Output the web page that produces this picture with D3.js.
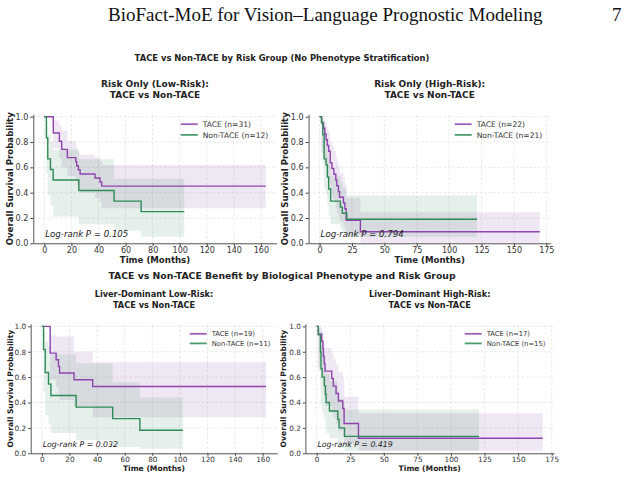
<!DOCTYPE html>
<html>
<head>
    <meta charset="utf-8">
    <title>TACE vs Non-TACE survival</title>
    <script src="https://d3js.org/d3.v7.min.js"></script>
    <style>
        body { margin: 0; background: white; }
        svg text { font-family: "DejaVu Sans", sans-serif; fill: #222; }
    </style>
</head>
<body>
<svg id="fig" width="633" height="478"></svg>
<script>
// Kaplan-Meier steps, each row: [month, survival, ci lower, ci upper]
// last row is the end of follow-up (no event)
var lowTace = [
    [0, 1, 1, 1], [6.6, 0.871, 0.75, 0.97], [11.1, 0.806, 0.67, 0.93], [12.8, 0.742, 0.60, 0.89],
    [17.0, 0.677, 0.53, 0.81], [23.2, 0.645, 0.49, 0.78], [23.9, 0.613, 0.46, 0.75], [25.1, 0.581, 0.43, 0.72],
    [26.4, 0.548, 0.40, 0.70], [37.4, 0.516, 0.36, 0.68], [41.1, 0.484, 0.33, 0.65], [42.4, 0.452, 0.276, 0.618],
    [163.5, 0.452, 0.276, 0.618]
];
var lowNon = [
    [0, 1, 1, 1], [1.5, 0.833, 0.55, 0.96], [2.5, 0.667, 0.38, 0.86], [4.5, 0.583, 0.30, 0.80],
    [6.5, 0.5, 0.21, 0.74], [25.5, 0.417, 0.15, 0.665], [51.5, 0.333, 0.10, 0.51], [71.5, 0.25, 0.052, 0.51],
    [103.4, 0.25, 0.052, 0.51]
];
var highTace = [
    [0, 1, 1, 1], [1.5, 0.955, 0.72, 0.99], [3, 0.909, 0.68, 0.98], [4, 0.864, 0.63, 0.96],
    [5, 0.818, 0.58, 0.93], [6, 0.773, 0.54, 0.90], [7, 0.727, 0.49, 0.87], [8.2, 0.636, 0.40, 0.80],
    [9.5, 0.591, 0.36, 0.77], [11, 0.545, 0.32, 0.73], [12.5, 0.5, 0.28, 0.69], [13.3, 0.455, 0.24, 0.65],
    [14.5, 0.409, 0.21, 0.61], [15.4, 0.364, 0.17, 0.56], [18.4, 0.318, 0.14, 0.52], [19.5, 0.273, 0.11, 0.47],
    [20.5, 0.182, 0.06, 0.36], [31.5, 0.091, 0.005, 0.245], [169.9, 0.091, 0.005, 0.245]
];
var highNon = [
    [0, 1, 1, 1], [1.5, 0.952, 0.71, 0.99], [2.5, 0.857, 0.62, 0.95], [3.5, 0.667, 0.43, 0.83],
    [5, 0.619, 0.38, 0.79], [6, 0.524, 0.30, 0.71], [7, 0.429, 0.22, 0.62], [8.5, 0.333, 0.15, 0.53],
    [16, 0.286, 0.11, 0.49], [17.5, 0.238, 0.08, 0.44], [21, 0.190, 0.05, 0.377], [121.5, 0.190, 0.05, 0.377]
];
var liverLowTace = [
    [0, 1, 1, 1], [6, 0.789, 0.58, 0.93], [10.3, 0.737, 0.52, 0.92], [12, 0.684, 0.47, 0.92],
    [12.8, 0.632, 0.42, 0.92], [23.3, 0.579, 0.37, 0.80], [36.8, 0.526, 0.283, 0.717], [162.5, 0.526, 0.283, 0.717]
];
var liverLowNon = [
    [0, 1, 1, 1], [1.2, 0.818, 0.48, 0.96], [2.4, 0.636, 0.30, 0.88], [4.8, 0.545, 0.23, 0.84],
    [6.5, 0.455, 0.16, 0.78], [24.8, 0.364, 0.105, 0.71], [51.3, 0.273, 0.05, 0.56], [71, 0.182, 0.035, 0.44],
    [102.2, 0.182, 0.035, 0.44]
];
var liverHighTace = [
    [0, 1, 1, 1], [1.2, 0.941, 0.65, 0.99], [3.7, 0.882, 0.60, 0.97], [4.6, 0.824, 0.54, 0.94],
    [5, 0.765, 0.48, 0.91], [5.6, 0.706, 0.43, 0.87], [6.2, 0.647, 0.37, 0.83], [11.2, 0.588, 0.32, 0.79],
    [12.4, 0.529, 0.28, 0.74], [14.4, 0.471, 0.23, 0.70], [16.2, 0.412, 0.18, 0.64], [19.4, 0.353, 0.14, 0.59],
    [20.4, 0.235, 0.07, 0.446], [31.1, 0.118, 0.02, 0.315], [168.3, 0.118, 0.02, 0.315]
];
var liverHighNon = [
    [0, 1, 1, 1], [1.2, 0.933, 0.68, 0.99], [2.8, 0.8, 0.50, 0.93], [3.2, 0.667, 0.38, 0.85],
    [4, 0.6, 0.32, 0.80], [5.7, 0.533, 0.27, 0.75], [6.5, 0.467, 0.21, 0.69], [7, 0.4, 0.16, 0.63],
    [9.5, 0.333, 0.12, 0.57], [15.7, 0.267, 0.08, 0.50], [16.7, 0.2, 0.05, 0.43], [20.7, 0.133, 0.02, 0.345],
    [120.9, 0.133, 0.02, 0.345]
];

var titles = [
    ["Risk Only (Low-Risk):", "TACE vs Non-TACE"],
    ["Risk Only (High-Risk):", "TACE vs Non-TACE"],
    ["Liver-Dominant Low-Risk:", "TACE vs Non-TACE"],
    ["Liver-Dominant High-Risk:", "TACE vs Non-TACE"]
];
var sizes = [[31, 12], [22, 21], [19, 11], [17, 15]];
var pValues = ["0.105", "0.794", "0.032", "0.419"];
var xTicks160 = [0, 20, 40, 60, 80, 100, 120, 140, 160];
var xTicks175 = [0, 25, 50, 75, 100, 125, 150, 175];
var yTicks = [0, 0.2, 0.4, 0.6, 0.8, 1.0];

var purple = "#8e44ad";
var green = "#2e8b57";

var svg = d3.select("#fig");

// page header
svg.append("text").attr("x", 108).attr("y", 21)
    .style("font-family", "'Liberation Serif', serif").style("font-size", "19px").style("fill", "#111")
    .text("BioFact-MoE for Vision\u2013Language Prognostic Modeling");
svg.append("text").attr("x", 612).attr("y", 21)
    .style("font-family", "'Liberation Serif', serif").style("font-size", "19px").style("fill", "#111")
    .text("7");

// figure suptitles
svg.append("text").attr("x", 282).attr("y", 61).attr("text-anchor", "middle")
    .style("font-weight", "bold").style("font-size", "8.4px")
    .text("TACE vs Non-TACE by Risk Group (No Phenotype Stratification)");
svg.append("text").attr("x", 282).attr("y", 279).attr("text-anchor", "middle")
    .style("font-weight", "bold").style("font-size", "9.3px")
    .text("TACE vs Non-TACE Benefit by Biological Phenotype and Risk Group");

// panel layout (pixels) and font sizes
var panels = [
    { tace: lowTace, non: lowNon, xTicks: xTicks160, left: 33.3, right: 276.7, top: 114.2, bottom: 243.3,
      ylabX: 10, fs: 8, lab: 8.6, leg: 7.6, title: 9, legDx: 74, legDy: 10.7, tick: 3, pad: 1.5, labDy: 19.5 },
    { tace: highTace, non: highNon, xTicks: xTicks175, left: 308.6, right: 550.7, top: 114.2, bottom: 243.3,
      ylabX: 285, fs: 8, lab: 8.6, leg: 7.6, title: 9, legDx: 74, legDy: 10.7, tick: 3, pad: 1.5, labDy: 19.5 },
    { tace: liverLowTace, non: liverLowNon, xTicks: xTicks160, left: 30.7, right: 277.3, top: 323.8, bottom: 453.3,
      ylabX: 10, fs: 7.3, lab: 7.6, leg: 6.8, title: 8.2, legDx: 65.6, legDy: 9.6, tick: 2.5, pad: 1, labDy: 18 },
    { tace: liverHighTace, non: liverHighNon, xTicks: xTicks175, left: 305.4, right: 554, top: 323.8, bottom: 453.3,
      ylabX: 283, fs: 7.3, lab: 7.6, leg: 6.8, title: 8.2, legDx: 67.3, legDy: 9.6, tick: 2.5, pad: 1, labDy: 18 }
];

panels.forEach(function(p, i) {
    var g = svg.append("g");
    var xMax = d3.max([p.tace, p.non], function(s) { return s[s.length - 1][0]; });
    var pad = xMax * 0.05;
    var x = d3.scaleLinear().domain([-pad, xMax + pad]).range([p.left, p.right]);
    var y = d3.scaleLinear().domain([0, 1.02]).range([p.bottom, p.top]);

    // dashed grid
    g.selectAll(".gx").data(p.xTicks).join("line")
        .attr("x1", function(d) { return x(d); }).attr("x2", function(d) { return x(d); })
        .attr("y1", p.bottom).attr("y2", p.top)
        .attr("stroke", "#d9d9d9").attr("stroke-width", 0.6).attr("stroke-dasharray", "2.5,2");
    g.selectAll(".gy").data(yTicks).join("line")
        .attr("x1", p.left).attr("x2", p.right)
        .attr("y1", function(d) { return y(d); }).attr("y2", function(d) { return y(d); })
        .attr("stroke", "#d9d9d9").attr("stroke-width", 0.6).attr("stroke-dasharray", "2.5,2");

    var band = d3.area().curve(d3.curveStepAfter)
        .x(function(d) { return x(d[0]); })
        .y0(function(d) { return y(d[2]); })
        .y1(function(d) { return y(d[3]); });
    var line = d3.line().curve(d3.curveStepAfter)
        .x(function(d) { return x(d[0]); })
        .y(function(d) { return y(d[1]); });

    var series = [[p.tace, purple], [p.non, green]];
    series.forEach(function(s) {
        g.append("path").datum(s[0]).attr("d", band).attr("fill", s[1]).attr("fill-opacity", 0.13);
    });
    series.forEach(function(s) {
        g.append("path").datum(s[0]).attr("d", line).attr("fill", "none")
            .attr("stroke", s[1]).attr("stroke-width", 1.4);
    });

    // axes, only left and bottom spines
    var xAxis = g.append("g").attr("transform", "translate(0," + p.bottom + ")")
        .call(d3.axisBottom(x).tickValues(p.xTicks).tickSize(p.tick).tickSizeOuter(0).tickPadding(p.pad));
    var yAxis = g.append("g").attr("transform", "translate(" + p.left + ",0)")
        .call(d3.axisLeft(y).tickValues(yTicks).tickFormat(d3.format(".1f")).tickSize(p.tick).tickSizeOuter(0).tickPadding(2));
    [xAxis, yAxis].forEach(function(a) {
        a.select(".domain").attr("stroke", "#444").attr("stroke-width", 0.9);
        a.selectAll(".tick line").attr("stroke", "#444");
        a.selectAll(".tick text").style("font-size", p.fs + "px").style("fill", "#333");
    });

    // titles and labels
    var cx = (p.left + p.right) / 2;
    g.append("text").attr("x", cx).attr("y", p.top - 27).attr("text-anchor", "middle")
        .style("font-weight", "bold").style("font-size", p.title + "px").text(titles[i][0]);
    g.append("text").attr("x", cx).attr("y", p.top - 16).attr("text-anchor", "middle")
        .style("font-weight", "bold").style("font-size", p.title + "px").text(titles[i][1]);
    g.append("text").attr("x", cx).attr("y", p.bottom + p.labDy).attr("text-anchor", "middle")
        .style("font-weight", "bold").style("font-size", p.lab + "px").text("Time (Months)");
    g.append("text").attr("transform", "translate(" + (p.ylabX + 3) + "," + ((p.top + p.bottom) / 2) + ") rotate(-90)")
        .attr("text-anchor", "middle")
        .style("font-weight", "bold").style("font-size", p.lab + "px").text("Overall Survival Probability");

    // log-rank annotation
    g.append("text").attr("x", p.left + 12).attr("y", p.bottom - 6)
        .style("font-style", "italic").style("font-size", (p.leg + 1) + "px")
        .text("Log-rank P = " + pValues[i]);

    // legend
    var lx = p.right - p.legDx;
    var ly = p.top + 10;
    var names = ["TACE (n=" + sizes[i][0] + ")", "Non-TACE (n=" + sizes[i][1] + ")"];
    series.forEach(function(s, k) {
        g.append("line").attr("x1", lx - 22).attr("x2", lx - 5)
            .attr("y1", ly + k * p.legDy).attr("y2", ly + k * p.legDy)
            .attr("stroke", s[1]).attr("stroke-width", 1.8).attr("stroke-opacity", 0.85);
        g.append("text").attr("x", lx).attr("y", ly + k * p.legDy + p.leg * 0.36)
            .style("font-size", p.leg + "px").style("fill", "#333").text(names[k]);
    });
});
</script>
</body>
</html>
